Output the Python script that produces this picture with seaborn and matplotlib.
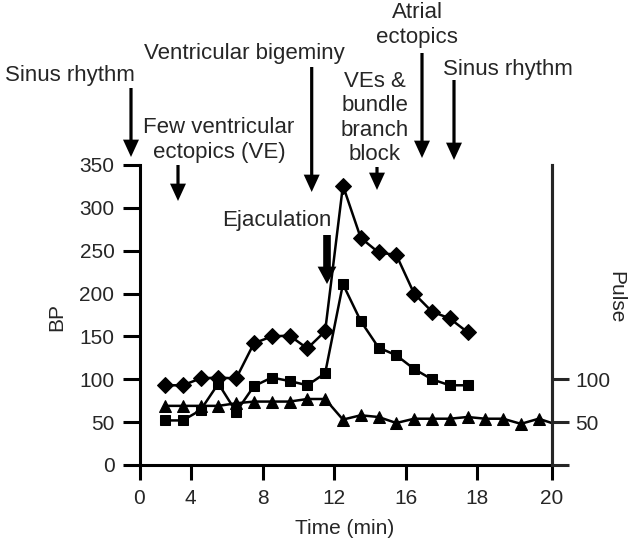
import matplotlib
matplotlib.use("Agg")
import matplotlib.pyplot as plt
import seaborn as sns

# -------------------
# DATA (one reading per sample, x in sample steps)
# -------------------
bp_sample = [0, 1, 2, 3, 4, 5, 6, 7, 8, 9, 10, 11, 12, 13, 14, 15, 16, 17]
systolic = [93, 93, 101, 102, 101, 142, 150, 151, 136, 156,
            326, 265, 248, 245, 200, 179, 171, 155]
diastolic = [52, 52, 64, 95, 62, 92, 102, 98, 93, 107,
             211, 168, 137, 128, 112, 100, 93, 93]

pulse_sample = [0, 1, 2, 3, 4, 5, 6, 7, 8, 9, 10, 11, 12, 13, 14, 15, 16,
                17, 18, 19, 20, 21, 21.73]
pulse = [69, 69, 69, 69, 72, 74, 74, 74, 77, 77, 53, 58, 56, 49, 54, 54, 54,
         56, 54, 54, 48, 54, 49]

# time axis is not linear in the original figure
time_tick_pos = [-1.43, 1.44, 5.52, 9.51, 13.54, 17.51, 21.73]
time_tick_labels = ["0", "4", "8", "12", "16", "18", "20"]

bp_ticks = [0, 50, 100, 150, 200, 250, 300, 350]
pulse_ticks = [0, 50, 100]
pulse_tick_labels = ["", "50", "100"]

# event annotations: text, text centre (px), arrow x, arrow top, arrow tip (px)
events = [
    ("Sinus rhythm", 70, 76, 131, 88, 157, False),
    ("Ventricular bigeminy", 244, 54, 311.7, 67, 192, False),
    ("Few ventricular\nectopics (VE)", 219, 140, 178, 165, 201, False),
    ("Ejaculation", 277, 221, 327, 235, 284, True),
    ("VEs &\nbundle\nbranch\nblock", 375, 118, 377, 167, 190, False),
    ("Atrial\nectopics", 417, 25, 422, 53, 158, False),
    ("Sinus rhythm", 508, 69, 454, 80, 160, False),
]

# -------------------
# STYLE
# -------------------
sns.set_style("ticks")
plt.rcParams['font.family'] = ['Liberation Sans', 'DejaVu Sans']
FS = 15
FS_NOTE = 16
LW = 2.2

W, H = 640, 547


def fpos(x, y):
    return (x / W, 1 - y / H)


fig = plt.figure(figsize=(6.4, 5.47), dpi=100)
ax = fig.add_axes([139.5 / W, 1 - 465 / H, 412.2 / W, 300 / H])

# -------------------
# SERIES
# -------------------
sns.lineplot(x=bp_sample, y=systolic, ax=ax, color="black", marker="D",
             markersize=8.5, markeredgecolor="black", linewidth=1.8)
sns.lineplot(x=bp_sample, y=diastolic, ax=ax, color="black", marker="s",
             markersize=7.6, markeredgecolor="black", linewidth=1.8)
sns.lineplot(x=pulse_sample, y=pulse, ax=ax, color="black", marker="^",
             markersize=9, markeredgecolor="black", linewidth=1.8,
             markevery=list(range(len(pulse) - 1)))

# -------------------
# AXES
# -------------------
ax.set_xlim(time_tick_pos[0], time_tick_pos[-1])
ax.set_ylim(0, 350)
ax.set_xticks(time_tick_pos, time_tick_labels)
ax.set_yticks(bp_ticks)
ax.set_xlabel("")
ax.set_ylabel("")
ax.tick_params(axis="both", width=LW, length=12, labelsize=FS, color="black")
ax.tick_params(axis="x", length=11, pad=6)
ax.tick_params(axis="y", pad=6)
for side in ["left", "bottom", "right"]:
    ax.spines[side].set_linewidth(LW)
    ax.spines[side].set_color("black")
ax.spines["top"].set_visible(False)

ax2 = ax.twinx()
ax2.set_ylim(0, 350)
ax2.set_yticks(pulse_ticks, pulse_tick_labels)
ax2.tick_params(axis="y", width=LW, length=12, labelsize=FS, pad=5)
for side in ["left", "bottom", "top"]:
    ax2.spines[side].set_visible(False)
ax2.spines["right"].set_linewidth(LW)

fig.text(*fpos(345, 529), "Time (min)", ha="center", va="center", fontsize=FS)
fig.text(*fpos(57, 317), "BP", ha="center", va="center", fontsize=FS,
         rotation=90)
fig.text(*fpos(616, 297), "Pulse", ha="center", va="center", fontsize=FS,
         rotation=270)

# -------------------
# EVENT ARROWS
# -------------------
for label, tx, ty, axx, ay0, ay1, thick in events:
    fig.text(*fpos(tx, ty), label, ha="center", va="center",
             fontsize=FS_NOTE, linespacing=1.2)
    ax.annotate("", xy=fpos(axx, ay1), xytext=fpos(axx, ay0),
                xycoords="figure fraction", textcoords="figure fraction",
                annotation_clip=False,
                arrowprops=dict(facecolor="black", edgecolor="none",
                                width=5.5 if thick else 2.3,
                                headwidth=13.5 if thick else 11.5,
                                headlength=12.5, shrink=0))

fig.savefig("out.png", dpi=100)
